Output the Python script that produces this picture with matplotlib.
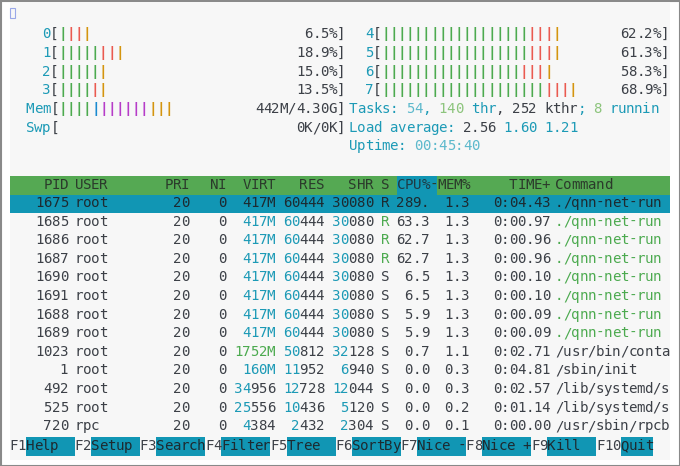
import matplotlib
matplotlib.use("Agg")
import matplotlib.pyplot as plt
from matplotlib.patches import Rectangle

# ---- data ----
cpu_ids = ["0", "1", "2", "3", "4", "5", "6", "7"]
cpu_green = [1, 5, 5, 4, 18, 18, 17, 20]
cpu_red = [2, 2, 0, 1, 3, 3, 3, 3]
cpu_orange = [1, 1, 1, 1, 1, 1, 1, 1]
cpu_pct = ["6.5%", "18.9%", "15.0%", "13.5%", "62.2%", "61.3%", "58.3%", "68.9%"]
mem_bars = [("g", 4), ("b", 1), ("m", 6), ("o", 3)]
mem_text = "442M/4.30G"
swp_text = "0K/0K"
tasks, threads, kthreads, running = "54", "140", "252", "8"
load_avg = ["2.56", "1.60", "1.21"]
uptime = "00:45:40"

pids = ["1675", "1685", "1686", "1687", "1690", "1691", "1688", "1689", "1023", "1", "492", "525", "720"]
users = ["root"] * 12 + ["rpc"]
pris = ["20"] * 13
nis = ["0"] * 13
virts = ["417M"] * 8 + ["1752M", "160M", "34956", "25556", "4384"]
ress = ["60444"] * 8 + ["50812", "11952", "12728", "10436", "2432"]
shrs = ["30080"] * 8 + ["32128", "6940", "12044", "5120", "2304"]
states = ["R", "R", "R", "R", "S", "S", "S", "S", "S", "S", "S", "S", "S"]
cpus = ["289.", "63.3", "62.7", "62.7", "6.5", "6.5", "5.9", "5.9", "0.7", "0.0", "0.0", "0.0", "0.0"]
mems = ["1.3"] * 8 + ["1.1", "0.3", "0.3", "0.2", "0.1"]
times = ["0:04.43", "0:00.97", "0:00.96", "0:00.96", "0:00.10", "0:00.10", "0:00.09", "0:00.09",
         "0:02.71", "0:04.81", "0:02.57", "0:01.14", "0:00.00"]
cmds = ["./qnn-net-run"] * 8 + ["/usr/bin/conta", "/sbin/init", "/lib/systemd/s", "/lib/systemd/s", "/usr/sbin/rpcb"]
fkeys = ["F1", "F2", "F3", "F4", "F5", "F6", "F7", "F8", "F9", "F10"]
flabels = ["Help  ", "Setup ", "Search", "Filter", "Tree  ", "SortBy", "Nice -", "Nice +", "Kill  ", "Quit"]

# ---- colours ----
FG = "#3c4047"
CY = "#1c9ab6"
GR = "#4caa4f"
RD = "#ea5a50"
OR = "#d4950f"
MG = "#b63cc8"
BL = "#1a8ad0"
LCY = "#5db9cc"
LGR = "#8cc47c"
SEL = "#1196b4"
HDR = "#55a953"
barcol = {"g": GR, "r": RD, "o": OR, "m": MG, "b": BL}

CW = 8.15
FS = 10.2
FONT = "DejaVu Sans Mono"

fig = plt.figure(figsize=(6.8, 4.66), dpi=100)
ax = fig.add_axes([0, 0, 1, 1])
ax.set_xlim(0, 680)
ax.set_ylim(466, 0)
ax.axis("off")
fig.patch.set_facecolor("white")
ax.add_patch(Rectangle((0.5, 0.5), 679, 465, fill=False, ec="#8a8a8a", lw=1.5))
ax.add_patch(Rectangle((10, 2), 660, 458, fc="#f7f7f7", ec="none"))
ax.add_patch(Rectangle((10, 8), 5, 10, fill=False, ec="#9aa8e8", lw=0.8))


def put(x, y, s, color=FG, weight="normal"):
    cols = color if isinstance(color, list) else [color] * len(s)
    for i, ch in enumerate(s):
        if ch != " ":
            ax.text(x + i * CW + CW / 2, y, ch, color=cols[i], fontsize=FS,
                    family=FONT, ha="center", va="center", weight=weight)


def put_r(xr, y, s, color=FG):
    put(xr - len(s) * CW, y, s, color)


def num_colors(s, base=FG):
    # htop: digits above the thousands are highlighted
    if s.endswith("M") or s.endswith("G"):
        return [CY] * len(s)
    if len(s) > 3:
        return [CY] * (len(s) - 3) + [base] * 3
    return [base] * len(s)


def meter(xl, y, label, segs, text, text_right):
    put(xl, y, label, CY)
    put(xl + len(label) * CW, y, "[", FG)
    x = xl + (len(label) + 1) * CW
    for c, n in segs:
        for _ in range(n):
            put(x, y, "|", barcol[c], weight="bold")
            x += CW
    put_r(text_right, y, text + "]", FG)


# ---- meters ----
meter_y = [34, 53, 72, 90]
for i in range(4):
    meter(42, meter_y[i], cpu_ids[i],
          [("g", cpu_green[i]), ("r", cpu_red[i]), ("o", cpu_orange[i])], cpu_pct[i], 345)
for i in range(4, 8):
    meter(365, meter_y[i - 4], cpu_ids[i],
          [("g", cpu_green[i]), ("r", cpu_red[i]), ("o", cpu_orange[i])], cpu_pct[i], 669)
meter(26, 109, "Mem", mem_bars, mem_text, 345)
meter(26, 128, "Swp", [], swp_text, 345)

# tasks / load / uptime
segs = [("Tasks: ", CY), (tasks, LCY), (", ", CY), (threads, LGR), (" thr", CY), (", ", FG),
        (kthreads, FG), (" kthr", FG), ("; ", CY), (running, LGR), (" runnin", CY)]
x = 349
for s, c in segs:
    put(x, 109, s, c)
    x += len(s) * CW
segs = [("Load average: ", CY), (load_avg[0], FG), (" ", FG), (load_avg[1], CY), (" ", FG), (load_avg[2], CY)]
x = 349
for s, c in segs:
    put(x, 128, s, c)
    x += len(s) * CW
put(349, 146, "Uptime: ", CY)
put(349 + 8 * CW, 146, uptime, LCY)

# ---- process table ----
ax.add_patch(Rectangle((10, 175.5), 660, 19, fc=HDR, ec="none"))
ax.add_patch(Rectangle((397, 175.5), 40, 19, fc=SEL, ec="none"))
hy = 185
put_r(68, hy, "PID", "#2b3a2b")
put(75, hy, "USER", "#2b3a2b")
put_r(189, hy, "PRI", "#2b3a2b")
put_r(226, hy, "NI", "#2b3a2b")
put_r(275, hy, "VIRT", "#2b3a2b")
put_r(324, hy, "RES", "#2b3a2b")
put_r(373, hy, "SHR", "#2b3a2b")
put(381, hy, "S", "#2b3a2b")
put(397, hy, "CPU%", "#1e3a44")
put(397 + 4 * CW, hy, "-MEM%", "#2b3a2b")
put_r(550, hy, "TIME+", "#2b3a2b")
put(555, hy, "Command", "#2b3a2b")

ax.add_patch(Rectangle((10, 194.5), 660, 18, fc=SEL, ec="none"))
for i in range(len(pids)):
    y = 203 + i * 18.6
    sel = i == 0
    base = "#1d2a30" if sel else FG
    put_r(68, y, pids[i], base)
    put(75, y, users[i], base)
    put_r(189, y, pris[i], base)
    put_r(226, y, nis[i], base)
    if sel:
        cv = cr = cs = base
    else:
        cv = [GR] * len(virts[i]) if virts[i] == "1752M" else num_colors(virts[i])
        cr = num_colors(ress[i])
        cs = num_colors(shrs[i])
    put_r(275, y, virts[i], cv)
    put_r(324, y, ress[i], cr)
    put_r(373, y, shrs[i], cs)
    put(381, y, states[i], GR if (states[i] == "R" and not sel) else base)
    put_r(429, y, cpus[i], base)
    put_r(469, y, mems[i], base)
    put_r(550, y, times[i], base)
    put(555, y, cmds[i], GR if (cmds[i].startswith("./") and not sel) else base)

# ---- footer ----
fy = 446
x = 9.5
for k, lab in zip(fkeys, flabels):
    put(x, fy, k, FG)
    x += len(k) * CW
    w = (8 - len(k)) * CW
    ax.add_patch(Rectangle((x, fy - 9.5), w if lab != "Quit" else 4 * CW, 19, fc=SEL, ec="none"))
    put(x, fy, lab, "#1d2a30")
    x += w

fig.savefig("out.png", dpi=100)
